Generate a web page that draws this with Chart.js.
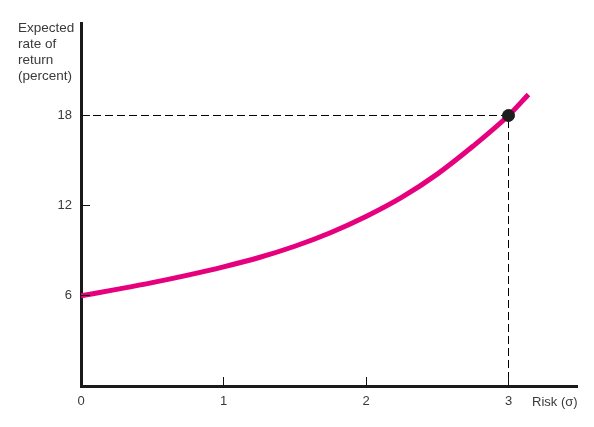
<!DOCTYPE html>
<html>
<head>
<meta charset="utf-8">
<script src="https://cdn.jsdelivr.net/npm/chart.js@4/dist/chart.umd.min.js"></script>
<style>
  html, body { margin: 0; padding: 0; background: #fff; }
  #wrap { width: 594px; height: 427px; }
</style>
</head>
<body>
<div id="wrap"><canvas id="riskChart" width="594" height="427"></canvas></div>
<script>
// Risk (sigma) vs expected return
const riskValues   = [0, 0.25, 0.5, 0.75, 1, 1.25, 1.5, 1.75, 2, 2.25, 2.5, 2.75, 3, 3.14];
const returnValues = [6, 6.43, 6.88, 7.38, 7.93, 8.55, 9.3, 10.2, 11.28, 12.55, 14.1, 15.95, 18, 19.4];

// the marked point and its guide lines
const markedRisk = 3;
const markedReturn = 18;

const xTicks = [0, 1, 2, 3];
const yTicks = [6, 12, 18];
const yTitleLines = ['Expected', 'rate of', 'return', '(percent)'];
const xTitle = 'Risk (\u03c3)';

const FONT = '"Liberation Sans", Arial, sans-serif';
const TEXT = '#3a3a3a';

const curveData = riskValues.map((r, i) => ({ x: r, y: returnValues[i] }));
const guideData = [
    { x: 0, y: markedReturn },
    { x: markedRisk, y: markedReturn },
    { x: markedRisk, y: 0 }
];

// short tick marks pointing into the plot, plus the axis captions
const extrasPlugin = {
    id: 'extras',
    afterDraw(chart) {
        const ctx = chart.ctx;
        const xs = chart.scales.x;
        const ys = chart.scales.y;
        const area = chart.chartArea;
        ctx.save();
        ctx.strokeStyle = '#111';
        ctx.lineWidth = 1;
        xTicks.slice(1).forEach(v => {
            const px = Math.floor(xs.getPixelForValue(v)) + 0.5;
            ctx.beginPath();
            ctx.moveTo(px, area.bottom);
            ctx.lineTo(px, area.bottom - 9);
            ctx.stroke();
        });
        yTicks.forEach(v => {
            const py = Math.floor(ys.getPixelForValue(v)) + 0.5;
            ctx.beginPath();
            ctx.moveTo(area.left, py);
            ctx.lineTo(area.left + 9, py);
            ctx.stroke();
        });

        ctx.fillStyle = TEXT;
        ctx.font = '13.5px ' + FONT;
        ctx.textAlign = 'left';
        ctx.textBaseline = 'alphabetic';
        yTitleLines.forEach((line, i) => {
            ctx.fillText(line, 18, 32 + i * 16);
        });
        ctx.font = '13px ' + FONT;
        ctx.fillText(xTitle, 532, 406);
        ctx.restore();
    }
};

new Chart(document.getElementById('riskChart').getContext('2d'), {
    type: 'scatter',
    data: {
        datasets: [
            {
                label: 'Guide',
                data: guideData,
                showLine: true,
                borderColor: '#000',
                borderWidth: 1,
                borderDash: [8, 4],
                pointRadius: 0,
                tension: 0,
                order: 3
            },
            {
                label: 'Expected return',
                data: curveData,
                showLine: true,
                borderColor: '#e6007e',
                borderWidth: 5,
                pointRadius: 0,
                cubicInterpolationMode: 'monotone',
                borderCapStyle: 'butt',
                order: 2
            },
            {
                label: 'Point',
                data: [{ x: markedRisk, y: markedReturn }],
                backgroundColor: '#1e1e1e',
                borderColor: '#1e1e1e',
                pointRadius: 6,
                order: 1
            }
        ]
    },
    options: {
        responsive: false,
        animation: false,
        layout: { padding: { left: 0, right: 17, top: 23, bottom: 0 } },
        plugins: {
            legend: { display: false },
            tooltip: { enabled: false }
        },
        scales: {
            x: {
                type: 'linear',
                min: 0,
                max: 3.4807,
                afterBuildTicks: s => { s.ticks = xTicks.map(v => ({ value: v })); },
                afterFit: s => { s.height = 41; },
                grid: { display: false, drawTicks: false },
                border: { display: true, color: '#1a1a1a', width: 3 },
                ticks: {
                    padding: 8,
                    color: TEXT,
                    font: { family: FONT, size: 13 },
                    maxRotation: 0
                }
            },
            y: {
                type: 'linear',
                min: 0,
                max: 24.155,
                afterBuildTicks: s => { s.ticks = yTicks.map(v => ({ value: v })); },
                afterFit: s => { s.width = 81; },
                grid: { display: false, drawTicks: false },
                border: { display: true, color: '#1a1a1a', width: 3 },
                ticks: {
                    padding: 9,
                    color: TEXT,
                    font: { family: FONT, size: 13 }
                }
            }
        }
    },
    plugins: [extrasPlugin]
});
</script>
</body>
</html>
